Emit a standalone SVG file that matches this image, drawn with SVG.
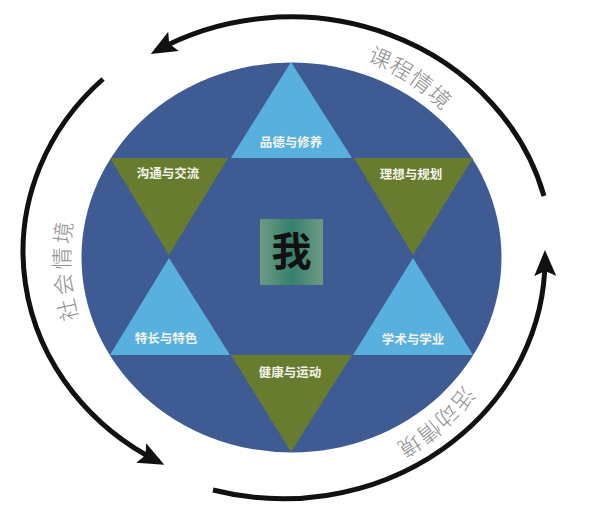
<svg xmlns="http://www.w3.org/2000/svg" width="600" height="512" viewBox="0 0 600 512">
<style>
.lbl{font-family:"Noto Sans CJK SC","Liberation Serif",serif;font-size:12.5px;font-weight:bold;fill:#f3f5ea;text-anchor:middle}
.ring{font-family:"Noto Sans CJK SC","Liberation Sans",sans-serif;font-size:22px;font-weight:300;fill:#8e8e8e;text-anchor:middle}
.arr{fill:none;stroke:#111;stroke-width:5;marker-end:url(#ah)}
.up{fill:#58b0de}
.dn{fill:#677c2f}
</style>
<defs>
<marker id="ah" markerUnits="userSpaceOnUse" viewBox="0 0 26 22" markerWidth="26" markerHeight="22" refX="20" refY="11" orient="auto">
<path d="M0,0 L26,11 L0,22 L5,11 Z" fill="#111"/>
</marker>
<linearGradient id="me" x1="0" y1="0" x2="1" y2="0">
<stop offset="0" stop-color="#6d9a82"/>
<stop offset="0.5" stop-color="#36806f"/>
<stop offset="1" stop-color="#6d9a82"/>
</linearGradient>
<path id="p1" d="M 285.5 47.1 A 211 211 0 0 1 487.3 180.7"/>
<path id="p2" d="M 116.8 394.1 A 221 221 0 0 1 103.6 140.9"/>
<path id="p3" d="M 499 308.3 A 214 214 0 0 1 314.9 470.7"/>
</defs>
<rect width="600" height="512" fill="#ffffff"/>
<g id="base">
<ellipse cx="291.5" cy="257.5" rx="210" ry="195" fill="#3f5b93"/>
</g>
<g id="n-pinde">
<polygon class="up" points="291,62 231,158 352,158"/>
<text class="lbl" x="291" y="147">品德与修养</text>
</g>
<g id="n-goutong">
<polygon class="dn" points="110,158 228,158 169,255"/>
<text class="lbl" x="168" y="178">沟通与交流</text>
</g>
<g id="n-lixiang">
<polygon class="dn" points="354,158 473,158 413,255"/>
<text class="lbl" x="411" y="179">理想与规划</text>
</g>
<g id="n-techang">
<polygon class="up" points="169,258 110,355 230,355"/>
<text class="lbl" x="166" y="343">特长与特色</text>
</g>
<g id="n-xueshu">
<polygon class="up" points="413,258 353,355 473,355"/>
<text class="lbl" x="413" y="344">学术与学业</text>
</g>
<g id="n-jiankang">
<polygon class="dn" points="231,355 352,355 291,452"/>
<text class="lbl" x="290" y="377">健康与运动</text>
</g>
<g id="n-wo">
<rect x="260" y="219" width="63" height="66" fill="url(#me)"/>
<text x="291.5" y="266" font-family="Noto Sans CJK SC, Liberation Serif, serif" font-size="40" font-weight="bold" fill="#111" text-anchor="middle">我</text>
</g>
<g id="connectors">
<path class="arr" d="M 544 196 A 262 240 0 0 0 156 51"/>
<path class="arr" d="M 103 79 A 262 240 0 0 0 159 462"/>
<path class="arr" d="M 213 490 A 262 240 0 0 0 545 256"/>
</g>
<g id="ring-labels">
<text class="ring" letter-spacing="1"><textPath href="#p1" startOffset="50%">课程情境</textPath></text>
<text class="ring" letter-spacing="3"><textPath href="#p2" startOffset="50%">社会情境</textPath></text>
<text class="ring" letter-spacing="1"><textPath href="#p3" startOffset="50%">活动情境</textPath></text>
</g>
</svg>
